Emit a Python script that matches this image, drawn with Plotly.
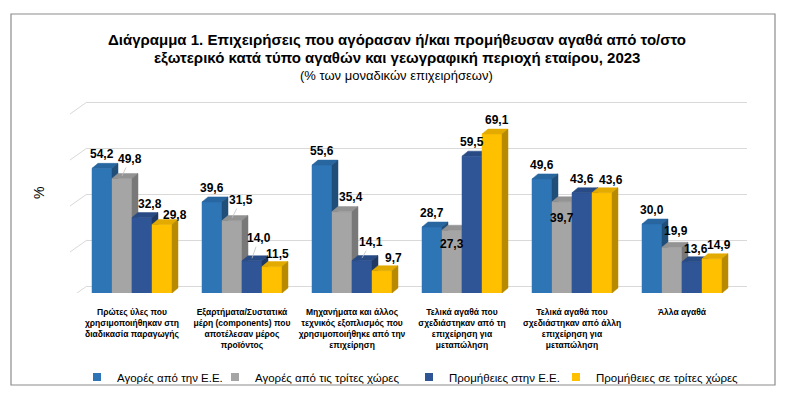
import plotly.graph_objects as go

# ---------------- data ----------------
categories = [
    "Πρώτες ύλες που<br>χρησιμοποιήθηκαν στη<br>διαδικασία παραγωγής",
    "Εξαρτήματα/Συστατικά<br>μέρη (components) που<br>αποτέλεσαν μέρος<br>προϊόντος",
    "Μηχανήματα και άλλος<br>τεχνικός εξοπλισμός που<br>χρησιμοποιήθηκε από την<br>επιχείρηση",
    "Τελικά αγαθά που<br>σχεδιάστηκαν από τη<br>επιχείρηση για<br>μεταπώληση",
    "Τελικά αγαθά που<br>σχεδιάστηκαν από άλλη<br>επιχείρηση για<br>μεταπώληση",
    "Άλλα αγαθά",
]
series_names = [
    "Αγορές από την Ε.Ε.",
    "Αγορές από τις τρίτες χώρες",
    "Προμήθειες στην Ε.Ε.",
    "Προμήθειες σε τρίτες χώρες",
]
eu_purchases = [54.2, 39.6, 55.6, 28.7, 49.6, 30.0]
third_purchases = [49.8, 31.5, 35.4, 27.3, 39.7, 19.9]
eu_supplies = [32.8, 14.0, 14.1, 59.5, 43.6, 13.6]
third_supplies = [29.8, 11.5, 9.7, 69.1, 43.6, 14.9]
series_values = [eu_purchases, third_purchases, eu_supplies, third_supplies]
grid_ticks = [0, 20, 40, 60, 80]

title_line1 = "Διάγραμμα 1. Επιχειρήσεις που αγόρασαν ή/και προμήθευσαν αγαθά από το/στο"
title_line2 = "εξωτερικό κατά τύπο αγαθών και γεωγραφική περιοχή εταίρου, 2023"
subtitle = "(% των μοναδικών επιχειρήσεων)"
y_title = "%"

# ---------------- styling / geometry ----------------
W, H = 796, 398
PAGE = 8                     # default body margin of the html page
# target layout, in window pixels
PLOT_LEFT, PLOT_RIGHT, PLOT_TOP, PLOT_BOTTOM = 77, 747, 100, 293
L, T = PLOT_LEFT - PAGE, PLOT_TOP - PAGE
R, B = W - (PLOT_RIGHT - PAGE), H - (PLOT_BOTTOM - PAGE)
PW, PH = PLOT_RIGHT - PLOT_LEFT, PLOT_BOTTOM - PLOT_TOP
PX_PER_UNIT = 2.3          # vertical pixels per percentage point
WALL_DX, WALL_DY = 10, 7   # back wall offset in px
BAR_DX, BAR_DY = 6, 5      # bar depth in px
N = len(categories)
cat_px = (PW - WALL_DX) / N
bar_w = 20 / cat_px

front_col = ["#2E75B6", "#A5A5A5", "#2F5597", "#FFC000"]
top_col = ["#2866A0", "#939393", "#284A85", "#E3AB00"]
side_col = ["#1F4E79", "#787878", "#203864", "#B88A00"]

FONT = "Liberation Sans, Arial, sans-serif"

# legend item x positions (window px of the square) and y
legend_square_px = [102, 240, 434, 581]
LEGEND_Y = 377

# label nudges (xshift, yshift) in px, default (0, 14)
label_nudge = {
    (0, 1): (8, 17), (0, 2): (8, 14), (0, 3): (13, 9),
    (1, 1): (9, 18), (1, 2): (7, 20), (1, 3): (5, 13),
    (2, 1): (9, 15), (2, 2): (9, 16), (2, 3): (11, 13),
    (3, 1): (0, -14), (3, 3): (5, 14),
    (4, 1): (0, -16), (4, 3): (9, 13),
    (5, 1): (4, 16), (5, 2): (4, 13), (5, 3): (7, 14),
}
# labels joined to their bar by a thin leader line
leader_lines = {(0, 1), (1, 1), (1, 2), (2, 2)}

y_front_max = PH / PX_PER_UNIT
wall_shift = WALL_DY / PX_PER_UNIT
dxu = BAR_DX / cat_px
dyu = BAR_DY / PX_PER_UNIT


def px_x(px):
    return (px - PLOT_LEFT) / PW


def px_y(py):
    return (PLOT_BOTTOM - py) / PH


fig = go.Figure()

# dummy trace on wall subplot
fig.add_trace(go.Scatter(x=[None], y=[None], xaxis="x", yaxis="y", showlegend=False, hoverinfo="skip"))

for s, vals in enumerate(series_values):
    fx, fy, tx, ty, sx, sy = [], [], [], [], [], []
    for g, v in enumerate(vals):
        xc = g + (s - 1.5) * bar_w
        x0, x1 = xc - bar_w / 2, xc + bar_w / 2
        fx += [x0, x1, x1, x0, x0, None]
        fy += [0, 0, v, v, 0, None]
        tx += [x0, x0 + dxu, x1 + dxu, x1, x0, None]
        ty += [v, v + dyu, v + dyu, v, v, None]
        sx += [x1, x1 + dxu, x1 + dxu, x1, x1, None]
        sy += [0, dyu, v + dyu, v, 0, None]
    for xs, ys, col in ((fx, fy, front_col[s]), (tx, ty, top_col[s]), (sx, sy, side_col[s])):
        fig.add_trace(go.Scatter(
            x=xs, y=ys, xaxis="x2", yaxis="y2", mode="lines", fill="toself",
            fillcolor=col, line=dict(width=0.5, color=col),
            showlegend=False, hoverinfo="skip"))

# legend entries, each in its own legend so they can sit at the reference positions
legend_layouts = {}
for s, name in enumerate(series_names):
    lg = "legend" if s == 0 else f"legend{s + 1}"
    fig.add_trace(go.Scatter(
        x=[None], y=[None], xaxis="x2", yaxis="y2", mode="markers", name=name,
        legend=lg, marker=dict(symbol="square", size=8, color=front_col[s])))
    legend_layouts[lg] = dict(
        orientation="h", x=px_x(legend_square_px[s] - 25), y=px_y(LEGEND_Y),
        xanchor="left", yanchor="middle", itemwidth=30,
        font=dict(family=FONT, size=11.5, color="#000000"), bgcolor="rgba(0,0,0,0)")

annotations = []
for s, vals in enumerate(series_values):
    for g, v in enumerate(vals):
        xc = g + (s - 1.5) * bar_w
        xs, ys = label_nudge.get((g, s), (0, 14))
        label = f"{v:.1f}".replace(".", ",")
        font = dict(family=FONT, size=12, color="#000000", weight="bold")
        if (g, s) in leader_lines:
            annotations.append(dict(
                x=xc, y=v + dyu / 2, xref="x2", yref="y2", text=label,
                showarrow=True, arrowhead=0, arrowwidth=0.8, arrowcolor="#BFBFBF",
                ax=xs, ay=-ys, standoff=0, xanchor="center", yanchor="middle", font=font))
        else:
            annotations.append(dict(
                x=xc, y=v, xref="x2", yref="y2", text=label,
                showarrow=False, xshift=xs, yshift=ys, xanchor="center", yanchor="middle",
                font=font))

annotations += [
    dict(x=px_x(397), y=px_y(39), xref="paper", yref="paper", text=f"<b>{title_line1}</b>",
         showarrow=False, xanchor="center", yanchor="middle",
         font=dict(family=FONT, size=15, color="#000000")),
    dict(x=px_x(397), y=px_y(57), xref="paper", yref="paper", text=f"<b>{title_line2}</b>",
         showarrow=False, xanchor="center", yanchor="middle",
         font=dict(family=FONT, size=15, color="#000000")),
    dict(x=px_x(396), y=px_y(75), xref="paper", yref="paper", text=subtitle,
         showarrow=False, xanchor="center", yanchor="middle",
         font=dict(family=FONT, size=13, color="#000000")),
    dict(x=px_x(39), y=px_y(193), xref="paper", yref="paper", text=y_title, textangle=-90,
         showarrow=False, xanchor="center", yanchor="middle",
         font=dict(family=FONT, size=14, color="#000000")),
]

shapes = [dict(type="rect", xref="paper", yref="paper",
               x0=px_x(11), x1=px_x(775), y0=px_y(385), y1=px_y(14),
               line=dict(color="#8C8C8C", width=1.2), layer="below")]
for v in grid_ticks:
    shapes.append(dict(type="line", xref="paper", yref="y",
                       x0=px_x(PLOT_LEFT + WALL_DX), x1=px_x(PLOT_LEFT - 7),
                       y0=v, y1=v - 12 / PX_PER_UNIT,
                       line=dict(color="#D9D9D9", width=1), layer="below"))

fig.update_layout(
    width=W, height=H,
    margin=dict(l=L, r=R, t=T, b=B, autoexpand=False),
    paper_bgcolor="white", plot_bgcolor="rgba(0,0,0,0)",
    font=dict(family=FONT, color="#000000"),
    xaxis=dict(domain=[WALL_DX / PW, 1], range=[-0.5, N - 0.5], visible=False,
               anchor="y", fixedrange=True),
    yaxis=dict(domain=[0, 1], range=[-wall_shift, y_front_max - wall_shift], anchor="x",
               tickvals=grid_ticks, showticklabels=False, showgrid=True,
               gridcolor="#D9D9D9", gridwidth=1, zeroline=False, showline=False, ticks=""),
    xaxis2=dict(domain=[0, (PW - WALL_DX) / PW], range=[-0.5, N - 0.5], anchor="y2",
                tickmode="array", tickvals=list(range(N)), ticktext=categories,
                tickangle=0, automargin=False, ticklabelstandoff=12,
                showgrid=False, zeroline=False, showline=False, ticks="",
                tickfont=dict(family=FONT, size=8.5, color="#000000", weight="bold")),
    yaxis2=dict(domain=[0, 1], range=[0, y_front_max], anchor="x2", visible=False),
    showlegend=True,
    annotations=annotations, shapes=shapes,
    **legend_layouts,
)

fig.write_html("out.html")
